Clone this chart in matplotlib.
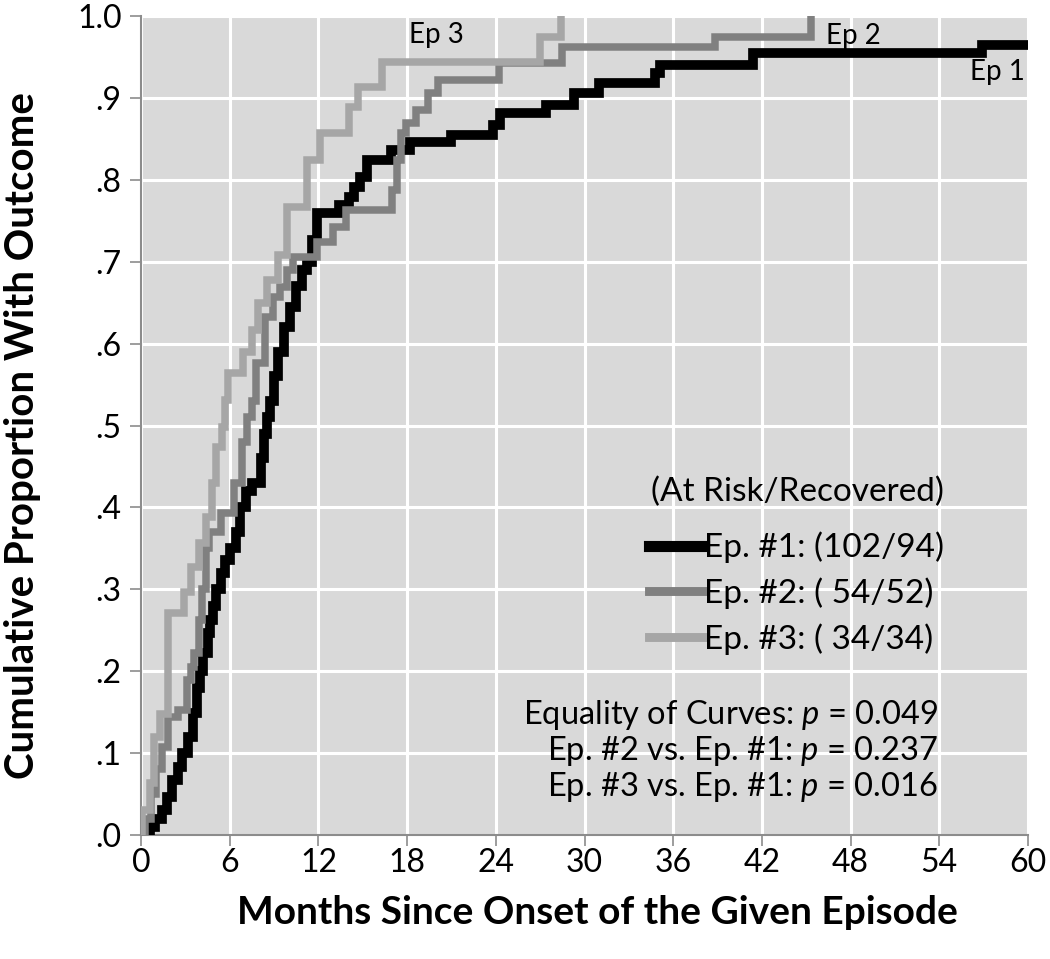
import matplotlib
matplotlib.use("Agg")
import matplotlib.pyplot as plt
from matplotlib.lines import Line2D

plt.rcParams['font.family'] = ['Lato', 'DejaVu Sans']
plt.rcParams['mathtext.fontset'] = 'custom'
plt.rcParams['mathtext.it'] = 'Lato:italic'
plt.rcParams['mathtext.rm'] = 'Lato'

# ---- data (months, cumulative proportion) ----
ep1_t = [0.6, 0.95, 1.4, 1.75, 2.1, 2.5, 2.8, 3.2, 3.5, 3.8, 4.0, 4.2, 4.5, 4.7, 4.9, 5.1, 5.4, 5.7,
         6.0, 6.4, 6.7, 7.1, 7.5, 8.1, 8.3, 8.5, 8.7, 9.0, 9.3, 9.7, 10.1, 10.5, 10.9, 11.2, 11.6,
         11.9, 13.4, 14.1, 14.4, 14.8, 15.3, 16.9, 18.2, 21.0, 23.8, 24.3, 27.4, 29.3, 31.0, 34.8,
         35.1, 41.4, 56.9]
ep1_v = [0.01, 0.02, 0.03, 0.046, 0.067, 0.083, 0.10, 0.12, 0.149, 0.18, 0.20, 0.222, 0.247, 0.262,
         0.28, 0.30, 0.32, 0.336, 0.35, 0.37, 0.40, 0.42, 0.43, 0.46, 0.49, 0.51, 0.53, 0.56, 0.59,
         0.62, 0.645, 0.67, 0.69, 0.70, 0.726, 0.759, 0.769, 0.779, 0.791, 0.803, 0.824, 0.836,
         0.846, 0.855, 0.867, 0.881, 0.891, 0.906, 0.918, 0.930, 0.940, 0.955, 0.965]
ep1_end = 60

ep2_t = [0.3, 0.7, 1.0, 1.4, 1.8, 2.5, 3.1, 3.4, 3.6, 3.9, 4.1, 4.4, 4.6, 5.4, 6.3, 6.8, 7.2, 7.5,
         7.8, 8.4, 8.9, 9.4, 9.9, 10.3, 11.9, 13.0, 13.9, 17.0, 17.3, 17.6, 17.9, 18.6, 19.4, 20.1,
         24.2, 28.5, 38.8, 45.3]
ep2_v = [0.02, 0.05, 0.08, 0.107, 0.144, 0.153, 0.189, 0.205, 0.222, 0.262, 0.30, 0.35, 0.37, 0.393,
         0.43, 0.48, 0.51, 0.53, 0.576, 0.632, 0.657, 0.669, 0.69, 0.706, 0.724, 0.742, 0.763, 0.787,
         0.824, 0.857, 0.869, 0.885, 0.906, 0.922, 0.943, 0.962, 0.974, 1.0]
ep2_end = 45.3

ep3_t = [0.1, 0.6, 0.9, 1.3, 1.8, 2.9, 3.4, 3.9, 4.4, 4.8, 5.1, 5.5, 5.7, 5.9, 6.9, 7.5, 7.9, 8.5,
         9.3, 9.9, 11.2, 12.1, 14.1, 14.7, 16.3, 27.0, 28.4]
ep3_v = [0.03, 0.063, 0.12, 0.148, 0.271, 0.297, 0.327, 0.356, 0.388, 0.43, 0.474, 0.498, 0.531,
         0.564, 0.59, 0.617, 0.65, 0.678, 0.708, 0.767, 0.824, 0.857, 0.889, 0.913, 0.944, 0.974, 1.0]
ep3_end = 28.4

legend_labels = ["Ep. #1: (102/94)", "Ep. #2: ( 54/52)", "Ep. #3: ( 34/34)"]
legend_title = "(At Risk/Recovered)"
stats_lines = ["Equality of Curves: $\\it{p}$ = 0.049",
               "Ep. #2 vs. Ep. #1: $\\it{p}$ = 0.237",
               "Ep. #3 vs. Ep. #1: $\\it{p}$ = 0.016"]
curve_labels = ["Ep 1", "Ep 2", "Ep 3"]
x_ticks = list(range(0, 61, 6))
y_ticks = [i / 10 for i in range(11)]
y_ticklabels = [".0", ".1", ".2", ".3", ".4", ".5", ".6", ".7", ".8", ".9", "1.0"]

colors = ["#000000", "#808080", "#a6a6a6"]
widths = [7.0, 5.4, 5.4]

fig = plt.figure(figsize=(10.5, 9.59), dpi=100)
ax = fig.add_axes([141 / 1050, 1 - 835 / 959, (1028 - 141) / 1050, (835 - 16) / 959])
ax.set_facecolor("#d9d9d9")

series = [(ep1_t, ep1_v, ep1_end), (ep2_t, ep2_v, ep2_end), (ep3_t, ep3_v, ep3_end)]
for (t, v, end), c, w in zip(series, colors, widths):
    xs = [t[0]] + list(t) + [end]
    ys = [0.0] + list(v) + [v[-1]]
    ax.step(xs, ys, where="post", color=c, lw=w, solid_joinstyle="miter", zorder=3)

ax.set_xlim(0, 60)
ax.set_ylim(0, 1.0)
ax.set_xticks(x_ticks)
ax.set_yticks(y_ticks)
ax.set_yticklabels(y_ticklabels)
ax.grid(True, color="white", lw=2.2, zorder=0)
ax.set_axisbelow(True)
for s in ["top", "right"]:
    ax.spines[s].set_visible(False)
for s in ["left", "bottom"]:
    ax.spines[s].set_color("#8c8c8c")
    ax.spines[s].set_linewidth(1.5)
ax.tick_params(axis="both", colors="#8c8c8c", length=8, width=1.2, labelcolor="black", labelsize=23)
ax.tick_params(axis="x", pad=1)
ax.tick_params(axis="y", pad=6)

ax.set_xlabel("Months Since Onset of the Given Episode", fontsize=28, fontweight="bold")
ax.xaxis.set_label_coords(0.515, -0.0735)
ax.set_ylabel("Cumulative Proportion With Outcome", fontsize=29, fontweight="bold", va="center")
ax.yaxis.set_label_coords(-0.134, 0.488)

# curve labels
ax.text(57.9, 0.932, curve_labels[0], fontsize=20, ha="center", va="center", zorder=4)
ax.text(48.2, 0.975, curve_labels[1], fontsize=20, ha="center", va="center", zorder=4)
ax.text(20.0, 0.977, curve_labels[2], fontsize=20, ha="center", va="center", zorder=4)

handles = [Line2D([0], [0], color=c, lw=w + 1) for c, w in zip(colors, widths)]
leg = ax.legend(handles, legend_labels, title=legend_title, loc="upper right",
                bbox_to_anchor=(0.905, 0.438), frameon=False, fontsize=24, title_fontsize=24,
                handlelength=1.65, handletextpad=0.0, labelspacing=0.42, alignment="right",
                borderpad=0, borderaxespad=0)
leg._legend_box.sep = 18

for i, line in enumerate(stats_lines):
    ax.text(0.8985, 0.1465 - i * 0.0440, line, transform=ax.transAxes, fontsize=23.5,
            ha="right", va="center")

fig.savefig("out.png", dpi=100)
